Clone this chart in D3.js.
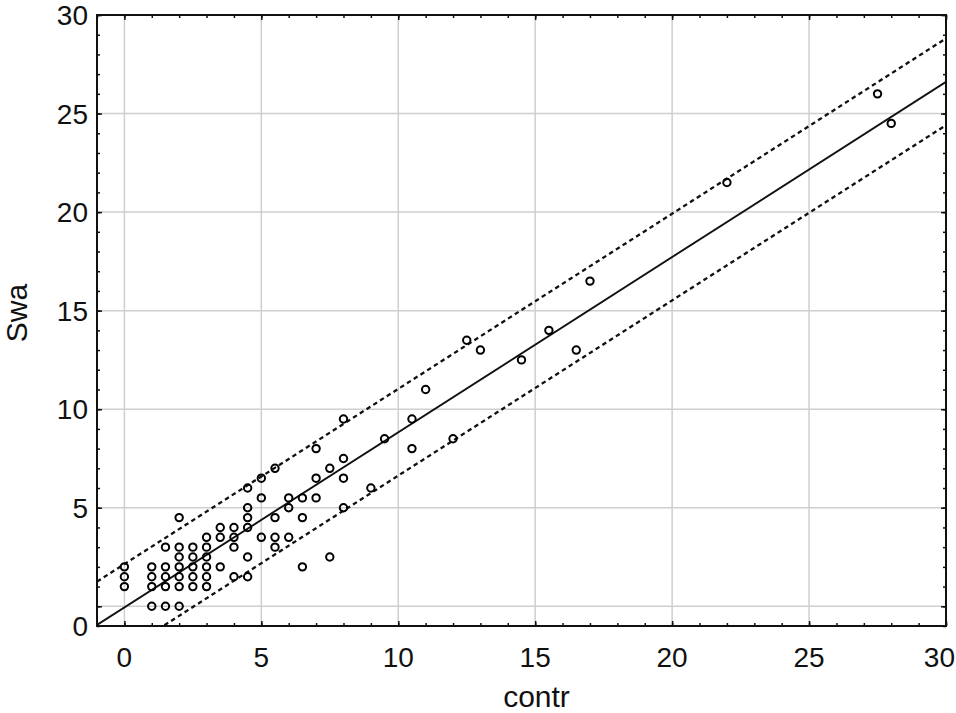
<!DOCTYPE html>
<html>
<head>
<meta charset="UTF-8" />
<title>Swa vs contr</title>
<script src="https://cdn.jsdelivr.net/npm/d3@7/dist/d3.min.js"></script>
<style>
  body { margin: 0; background: #fff; }
  svg text { font-family: "Liberation Sans", Arial, sans-serif; fill: #111; }
</style>
</head>
<body>
<div id="chart"></div>
<script type="text/javascript">
var w = 956, h = 713;
var margin = {top: 15, right: 10, bottom: 87, left: 97};

// observations (contr, Swa)
var contr = [0, 0, 0,
  1, 1, 1, 1,
  1.5, 1.5, 1.5, 1.5, 1.5,
  2, 2, 2, 2, 2, 2, 2,
  2.5, 2.5, 2.5, 2.5, 2.5,
  3, 3, 3, 3, 3, 3,
  3.5, 3.5, 3.5,
  4, 4, 4, 4,
  4.5, 4.5, 4.5, 4.5, 4.5, 4.5,
  5, 5, 5,
  5.5, 5.5, 5.5, 5.5,
  6, 6, 6,
  6.5, 6.5, 6.5,
  7, 7, 7,
  7.5, 7.5,
  8, 8, 8, 8,
  9, 9.5, 10.5, 10.5, 11, 12, 12.5, 13, 14.5, 15.5, 16.5, 17, 22, 27.5, 28];
var swa = [2, 1.5, 1,
  2, 1.5, 1, 0,
  3, 2, 1.5, 1, 0,
  4.5, 3, 2.5, 2, 1.5, 1, 0,
  3, 2.5, 2, 1.5, 1,
  3.5, 3, 2.5, 2, 1.5, 1,
  4, 3.5, 2,
  4, 3.5, 3, 1.5,
  6, 5, 4.5, 4, 2.5, 1.5,
  6.5, 5.5, 3.5,
  7, 4.5, 3.5, 3,
  5.5, 5, 3.5,
  5.5, 4.5, 2,
  8, 6.5, 5.5,
  7, 2.5,
  9.5, 7.5, 6.5, 5,
  6, 8.5, 9.5, 8, 11, 8.5, 13.5, 13, 12.5, 14, 13, 16.5, 21.5, 26, 24.5];

// fitted line and prediction band
var fitIntercept = -0.06, fitSlope = 0.889, bandHalf = 2.2;

var xDomain = [-1, 30], yDomain = [-1, 30];
var xTicks = [0, 5, 10, 15, 20, 25, 30];
var yTicks = [5, 10, 15, 20, 25, 30];
var gridX = [0, 5, 10, 15, 20, 25];
var gridY = [0, 5, 10, 15, 20, 25];

var x = d3.scaleLinear().domain(xDomain).range([margin.left, w - margin.right]);
var y = d3.scaleLinear().domain(yDomain).range([h - margin.bottom, margin.top]);

var svg = d3.select('#chart').append('svg')
  .attr('width', w).attr('height', h);

svg.append('clipPath').attr('id', 'plotclip')
  .append('rect')
  .attr('x', x(xDomain[0])).attr('y', y(yDomain[1]))
  .attr('width', x(xDomain[1]) - x(xDomain[0]))
  .attr('height', y(yDomain[0]) - y(yDomain[1]));

// grid
svg.append('g').selectAll('line').data(gridX).enter().append('line')
  .attr('x1', function(d){ return x(d); }).attr('x2', function(d){ return x(d); })
  .attr('y1', y(yDomain[0])).attr('y2', y(yDomain[1]))
  .attr('stroke', '#cfcfcf').attr('stroke-width', 1.5);
svg.append('g').selectAll('line').data(gridY).enter().append('line')
  .attr('y1', function(d){ return y(d); }).attr('y2', function(d){ return y(d); })
  .attr('x1', x(xDomain[0])).attr('x2', x(xDomain[1]))
  .attr('stroke', '#cfcfcf').attr('stroke-width', 1.5);

// regression line + bands
var lines = svg.append('g').attr('clip-path', 'url(#plotclip)');
var offsets = [0, bandHalf, -bandHalf];
lines.selectAll('line').data(offsets).enter().append('line')
  .attr('x1', x(xDomain[0]))
  .attr('x2', x(xDomain[1]))
  .attr('y1', function(d){ return y(fitIntercept + fitSlope * xDomain[0] + d); })
  .attr('y2', function(d){ return y(fitIntercept + fitSlope * xDomain[1] + d); })
  .attr('stroke', '#111')
  .attr('stroke-width', function(d){ return d === 0 ? 1.9 : 2.3; })
  .attr('stroke-dasharray', function(d){ return d === 0 ? null : '4.5,3.5'; });

// points
svg.append('g').selectAll('circle').data(contr).enter().append('circle')
  .attr('cx', function(d){ return x(d); })
  .attr('cy', function(d, i){ return y(swa[i]); })
  .attr('r', 3.7)
  .attr('fill', 'none')
  .attr('stroke', '#000')
  .attr('stroke-width', 2);

// inward ticks on all four sides
var minorX = d3.range(xDomain[0], xDomain[1] + 1);
var minorY = d3.range(yDomain[0], yDomain[1] + 1);
function tickAxis(axis, vals, size){
  return axis.tickValues(vals).tickSize(size).tickFormat('');
}
var bottomY = y(yDomain[0]), topY = y(yDomain[1]);
var leftX = x(xDomain[0]), rightX = x(xDomain[1]);

[[minorX, -3], [xTicks, -5]].forEach(function(t){
  svg.append('g').attr('transform', 'translate(0,' + bottomY + ')')
    .call(tickAxis(d3.axisBottom(x), t[0], t[1]));
  svg.append('g').attr('transform', 'translate(0,' + topY + ')')
    .call(tickAxis(d3.axisTop(x), t[0], t[1]));
});
[[minorY, -3], [yTicks.concat([0]), -5]].forEach(function(t){
  svg.append('g').attr('transform', 'translate(' + leftX + ',0)')
    .call(tickAxis(d3.axisLeft(y), t[0], t[1]));
  svg.append('g').attr('transform', 'translate(' + rightX + ',0)')
    .call(tickAxis(d3.axisRight(y), t[0], t[1]));
});
svg.selectAll('.domain').remove();
svg.selectAll('.tick line').attr('stroke', '#111').attr('stroke-width', 1.5);

// frame
svg.append('rect')
  .attr('x', leftX).attr('y', topY)
  .attr('width', rightX - leftX).attr('height', bottomY - topY)
  .attr('fill', 'none').attr('stroke', '#111').attr('stroke-width', 2);

// tick labels
svg.append('g').selectAll('text').data(xTicks).enter().append('text')
  .attr('x', function(d){ return x(d); })
  .attr('y', bottomY + 41)
  .attr('text-anchor', 'middle')
  .attr('font-size', '28px')
  .text(function(d){ return d; })
  .each(function(){
    // keep the last label inside the picture, as the original does
    var tw = this.getComputedTextLength();
    var cx = +this.getAttribute('x');
    if (cx + tw / 2 > w - 1) this.setAttribute('x', w - 1 - tw / 2);
  });

svg.append('g').selectAll('text').data(yTicks).enter().append('text')
  .attr('x', leftX - 9)
  .attr('y', function(d){ return y(d); })
  .attr('dy', '0.36em')
  .attr('text-anchor', 'end')
  .attr('font-size', '28px')
  .text(function(d){ return d; });

// the original prints its "0" at the axis floor
svg.append('text')
  .attr('x', leftX - 9)
  .attr('y', bottomY)
  .attr('dy', '0.36em')
  .attr('text-anchor', 'end')
  .attr('font-size', '28px')
  .text('0');

// axis titles
svg.append('text')
  .attr('x', (leftX + rightX) / 2 + 15)
  .attr('y', h - 6)
  .attr('text-anchor', 'middle')
  .attr('font-size', '30px')
  .text('contr');

svg.append('text')
  .attr('transform', 'translate(27,313) rotate(-90)')
  .attr('text-anchor', 'middle')
  .attr('font-size', '30px')
  .text('Swa');
</script>
</body>
</html>
